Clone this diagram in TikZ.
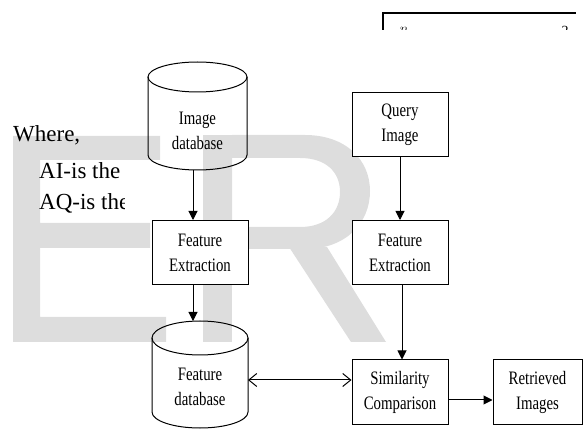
\documentclass[tikz,border=0pt]{standalone}
\usepackage{fontspec}
\setmainfont{Liberation Serif}
\newfontfamily\narrowfont[FakeStretch=0.78]{Liberation Serif}
\usetikzlibrary{arrows.meta}
\definecolor{marca}{RGB}{221,221,221}
\tikzstyle{block} = [rectangle, draw, fill=white, line width=1pt, minimum width=96pt, minimum height=64pt, align=center, inner sep=0pt, font=\narrowfont\fontsize{19}{25}\selectfont]
\tikzstyle{dbtext} = [align=center, inner sep=0pt, font=\narrowfont\fontsize{19}{25}\selectfont]
\tikzstyle{body} = [anchor=base west, inner sep=0pt, font=\fontsize{23}{27}\selectfont]
\tikzstyle{tri} = [-{Triangle[length=9pt,width=9pt]}, line width=1pt]
\tikzstyle{both} = [{Straight Barb[length=8pt,width=13pt]}-{Straight Barb[length=8pt,width=13pt]}, line width=1pt]

\begin{document}
\begin{tikzpicture}[x=1pt,y=-1pt]
	\useasboundingbox (0,0) rectangle (584,430);
	% Marca de agua
	\fill[marca] (13,136) -- (160,136) -- (160,160) -- (40,160) -- (40,223) -- (150,223) -- (150,248) -- (40,248) -- (40,317) -- (166,317) -- (166,342) -- (13,342) -- cycle;
	\fill[marca] (203,135) rectangle (232,342);
	\fill[marca, even odd rule] (232,135) -- (305,135) .. controls (346,135) and (370,160) .. (370,191) .. controls (370,223) and (346,249) .. (305,249) -- (232,249) -- cycle
		(232,158) -- (300,158) .. controls (326,158) and (340,172) .. (340,192) .. controls (340,212) and (326,227) .. (300,227) -- (232,227) -- cycle;
	\fill[marca] (289,247) -- (327,247) -- (386,342) -- (351,342) -- cycle;
	% Texto
	\node[body] (where) at (13,142) {Where,};
	\node[body] (ai) at (39,179) {AI-is the};
	\begin{scope}
		\clip (0,185) rectangle (124,220);
		\node[body] (aq) at (39,210) {AQ-is the};
	\end{scope}
	\begin{scope}
		\clip (380,0) rectangle (584,30);
		\draw[line width=1.5pt] (383,31) -- (383,13) -- (576,13);
		\node[inner sep=0pt, font=\fontsize{14}{14}\selectfont] (sup) at (404,30) {$n$};
		\node[inner sep=0pt, font=\fontsize{14}{14}\selectfont] (exp) at (565,31) {2};
	\end{scope}
	% Cajas
	\node[block] (qimg) at (400,125) {Query\\Image};
	\node[block] (fe1) at (200,252.5) {Feature\\Extraction};
	\node[block] (fe2) at (400,252.5) {Feature\\Extraction};
	\node[block] (sim) at (400,392) {Similarity\\Comparison};
	\node[block, minimum width=89pt] (ret) at (537.5,392) {Retrieved\\Images};
	% Cilindros
	\draw[line width=1pt] (148,77) -- (148,155) arc[start angle=180, end angle=360, x radius=49.5pt, y radius=15pt] -- (247,77);
	\draw[line width=1pt] (197.5,77) ellipse[x radius=49.5pt, y radius=15pt];
	\node[dbtext] (imgdb) at (197.5,131) {Image\\database};
	\draw[line width=1pt] (152,338) -- (152,412) arc[start angle=180, end angle=360, x radius=48pt, y radius=16pt] -- (248,338);
	\draw[line width=1pt] (200,338) ellipse[x radius=48pt, y radius=17pt];
	\node[dbtext] (featdb) at (200,387) {Feature\\database};
	\coordinate (imgdbbot) at (193,170);
	\coordinate (featdbtop) at (193,321);
	\coordinate (featdbside) at (248,380);
	% Flechas
	\draw[tri] (imgdbbot) -- (imgdbbot |- fe1.north);
	\draw[tri] (featdbtop |- fe1.south) -- (featdbtop);
	\draw[tri] (qimg.south) -- (fe2.north);
	\draw[tri] ([xshift=2pt]fe2.south) -- ([xshift=2pt]sim.north);
	\draw[both] (featdbside) -- (featdbside -| sim.west);
	\draw[tri] ([yshift=-8pt]sim.east) -- ([yshift=-8pt]ret.west);
\end{tikzpicture}
\end{document}
